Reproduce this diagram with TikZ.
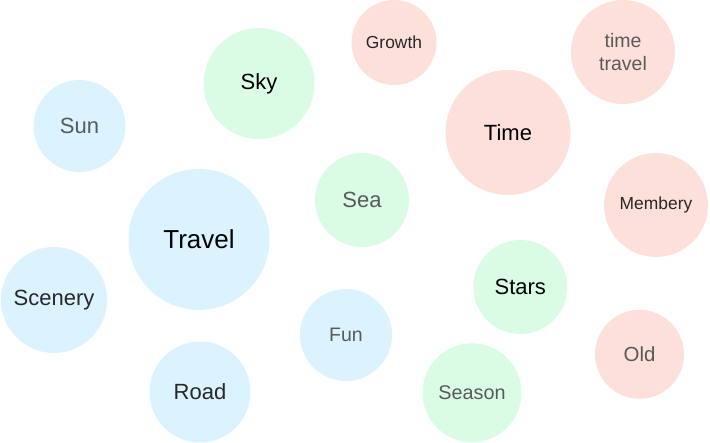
\documentclass[tikz,border=0pt]{standalone}
\usepackage{fontspec}
\setmainfont{Liberation Sans}
\definecolor{cblue}{RGB}{219,243,254}
\definecolor{cgreen}{RGB}{218,252,228}
\definecolor{cpink}{RGB}{254,224,218}
\definecolor{tdark}{RGB}{40,40,40}
\definecolor{tgray}{RGB}{90,90,90}
\tikzset{
  bubble/.style={circle, draw=none, inner sep=0pt, minimum size=#1, align=center},
  blueb/.style={bubble=#1, fill=cblue},
  greenb/.style={bubble=#1, fill=cgreen},
  pinkb/.style={bubble=#1, fill=cpink},
  fs/.style={font=\fontsize{#1}{23}\selectfont},
}
\begin{document}
\begin{tikzpicture}[x=1pt,y=-1pt]
\useasboundingbox (0,0) rectangle (710,443);
\node[blueb=92pt, fs=22, text=tgray] (sun) at (79.5,126) {Sun};
\node[greenb=111pt, fs=22, text=black] (sky) at (259,83.5) {Sky};
\node[pinkb=85pt, fs=17.4, text=tdark] (growth) at (394,42.5) {Growth};
\node[pinkb=104pt, fs=19.5, text=tgray] (timetravel) at (623,52) {time\\travel};
\node[pinkb=125pt, fs=22, text=black] (time) at (508,132.5) {Time};
\node[blueb=141pt, fs=26, text=black] (travel) at (199,239.4) {Travel};
\node[greenb=94pt, fs=22, text=tgray] (sea) at (362,200) {Sea};
\node[pinkb=104pt, fs=17.4, text=tdark] (membery) at (656,205) {Membery};
\node[blueb=106pt, fs=22, text=tdark] (scenery) at (54,300) {Scenery};
\node[greenb=94pt, fs=22, text=black] (stars) at (520.3,287) {Stars};
\node[blueb=92pt, fs=19.5, text=tgray] (fun) at (346,335) {Fun};
\node[blueb=101pt, fs=22, text=tdark] (road) at (200,392) {Road};
\node[greenb=99pt, fs=19.8, text=tgray] (season) at (472,392.7) {Season};
\node[pinkb=89pt, fs=20.4, text=tgray] (old) at (639.5,354.3) {Old};
\end{tikzpicture}
\end{document}
